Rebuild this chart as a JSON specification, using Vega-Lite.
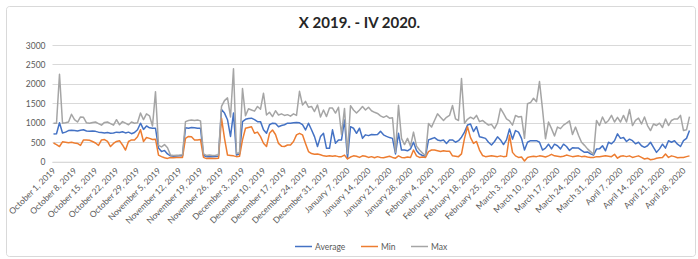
{
  "$schema": "https://vega.github.io/schema/vega-lite/v6.json",
  "autosize": "none",
  "width": 689,
  "height": 250,
  "padding": {"left": 6, "top": 6, "right": 3, "bottom": 3},
  "background": "white",
  "title": {"text": "X 2019. - IV 2020.", "anchor": "middle", "frame": "group", "offset": -25, "dx": 9, "font": "Lato", "fontSize": 15, "fontWeight": "bold", "color": "#262626"},
  "config": {
    "view": {"stroke": "#d9d9d9", "strokeWidth": 1, "cornerRadius": 3},
    "font": "Lato"
  },
  "data": {"values": [
{"date":"2019-10-01","Average":710,"Min":480,"Max":990},
{"date":"2019-10-02","Average":720,"Min":440,"Max":990},
{"date":"2019-10-03","Average":1000,"Min":390,"Max":2250},
{"date":"2019-10-04","Average":740,"Min":510,"Max":990},
{"date":"2019-10-05","Average":760,"Min":500,"Max":1000},
{"date":"2019-10-06","Average":800,"Min":490,"Max":1020},
{"date":"2019-10-07","Average":810,"Min":500,"Max":1220},
{"date":"2019-10-08","Average":800,"Min":480,"Max":1080},
{"date":"2019-10-09","Average":790,"Min":470,"Max":1020},
{"date":"2019-10-10","Average":810,"Min":420,"Max":1150},
{"date":"2019-10-11","Average":820,"Min":560,"Max":1140},
{"date":"2019-10-12","Average":790,"Min":560,"Max":1000},
{"date":"2019-10-13","Average":780,"Min":550,"Max":990},
{"date":"2019-10-14","Average":790,"Min":520,"Max":1010},
{"date":"2019-10-15","Average":780,"Min":480,"Max":1020},
{"date":"2019-10-16","Average":760,"Min":420,"Max":980},
{"date":"2019-10-17","Average":750,"Min":560,"Max":940},
{"date":"2019-10-18","Average":740,"Min":570,"Max":1010},
{"date":"2019-10-19","Average":750,"Min":520,"Max":1020},
{"date":"2019-10-20","Average":730,"Min":390,"Max":980},
{"date":"2019-10-21","Average":740,"Min":470,"Max":940},
{"date":"2019-10-22","Average":760,"Min":520,"Max":1080},
{"date":"2019-10-23","Average":750,"Min":540,"Max":950},
{"date":"2019-10-24","Average":770,"Min":430,"Max":1030},
{"date":"2019-10-25","Average":740,"Min":300,"Max":990},
{"date":"2019-10-26","Average":760,"Min":520,"Max":950},
{"date":"2019-10-27","Average":720,"Min":560,"Max":1020},
{"date":"2019-10-28","Average":750,"Min":560,"Max":990},
{"date":"2019-10-29","Average":820,"Min":640,"Max":1000},
{"date":"2019-10-30","Average":990,"Min":820,"Max":1250},
{"date":"2019-10-31","Average":830,"Min":520,"Max":1080},
{"date":"2019-11-01","Average":920,"Min":620,"Max":1230},
{"date":"2019-11-02","Average":870,"Min":600,"Max":1180},
{"date":"2019-11-03","Average":860,"Min":570,"Max":920},
{"date":"2019-11-04","Average":860,"Min":580,"Max":1800},
{"date":"2019-11-05","Average":350,"Min":170,"Max":420},
{"date":"2019-11-06","Average":260,"Min":130,"Max":380},
{"date":"2019-11-07","Average":290,"Min":100,"Max":440},
{"date":"2019-11-08","Average":200,"Min":85,"Max":360},
{"date":"2019-11-09","Average":150,"Min":110,"Max":170},
{"date":"2019-11-10","Average":140,"Min":100,"Max":160},
{"date":"2019-11-11","Average":145,"Min":110,"Max":165},
{"date":"2019-11-12","Average":150,"Min":105,"Max":170},
{"date":"2019-11-13","Average":155,"Min":110,"Max":180},
{"date":"2019-11-14","Average":870,"Min":600,"Max":1030},
{"date":"2019-11-15","Average":860,"Min":650,"Max":1060},
{"date":"2019-11-16","Average":880,"Min":640,"Max":1070},
{"date":"2019-11-17","Average":870,"Min":560,"Max":1060},
{"date":"2019-11-18","Average":860,"Min":560,"Max":1070},
{"date":"2019-11-19","Average":860,"Min":570,"Max":1050},
{"date":"2019-11-20","Average":160,"Min":110,"Max":200},
{"date":"2019-11-21","Average":130,"Min":80,"Max":160},
{"date":"2019-11-22","Average":135,"Min":90,"Max":170},
{"date":"2019-11-23","Average":130,"Min":80,"Max":160},
{"date":"2019-11-24","Average":135,"Min":85,"Max":165},
{"date":"2019-11-25","Average":140,"Min":90,"Max":180},
{"date":"2019-11-26","Average":1340,"Min":1120,"Max":1420},
{"date":"2019-11-27","Average":1250,"Min":600,"Max":1570},
{"date":"2019-11-28","Average":1080,"Min":170,"Max":1640},
{"date":"2019-11-29","Average":650,"Min":160,"Max":1150},
{"date":"2019-11-30","Average":1250,"Min":150,"Max":2390},
{"date":"2019-12-01","Average":170,"Min":130,"Max":210},
{"date":"2019-12-02","Average":200,"Min":140,"Max":230},
{"date":"2019-12-03","Average":1030,"Min":560,"Max":1880},
{"date":"2019-12-04","Average":1090,"Min":860,"Max":1180},
{"date":"2019-12-05","Average":1110,"Min":880,"Max":1360},
{"date":"2019-12-06","Average":1120,"Min":900,"Max":1330},
{"date":"2019-12-07","Average":1080,"Min":730,"Max":1300},
{"date":"2019-12-08","Average":1030,"Min":760,"Max":1420},
{"date":"2019-12-09","Average":1030,"Min":645,"Max":1350},
{"date":"2019-12-10","Average":820,"Min":475,"Max":1760},
{"date":"2019-12-11","Average":730,"Min":390,"Max":1200},
{"date":"2019-12-12","Average":950,"Min":730,"Max":1270},
{"date":"2019-12-13","Average":990,"Min":815,"Max":1160},
{"date":"2019-12-14","Average":980,"Min":700,"Max":1310},
{"date":"2019-12-15","Average":900,"Min":470,"Max":1200},
{"date":"2019-12-16","Average":930,"Min":400,"Max":1230},
{"date":"2019-12-17","Average":950,"Min":390,"Max":1190},
{"date":"2019-12-18","Average":990,"Min":430,"Max":1210},
{"date":"2019-12-19","Average":990,"Min":430,"Max":1170},
{"date":"2019-12-20","Average":1000,"Min":520,"Max":1230},
{"date":"2019-12-21","Average":1010,"Min":690,"Max":1190},
{"date":"2019-12-22","Average":1000,"Min":730,"Max":1810},
{"date":"2019-12-23","Average":950,"Min":690,"Max":1460},
{"date":"2019-12-24","Average":815,"Min":470,"Max":1550},
{"date":"2019-12-25","Average":990,"Min":260,"Max":1400},
{"date":"2019-12-26","Average":820,"Min":210,"Max":1420},
{"date":"2019-12-27","Average":645,"Min":190,"Max":1290},
{"date":"2019-12-28","Average":390,"Min":200,"Max":1460},
{"date":"2019-12-29","Average":645,"Min":180,"Max":1150},
{"date":"2019-12-30","Average":730,"Min":150,"Max":1330},
{"date":"2019-12-31","Average":345,"Min":140,"Max":1160},
{"date":"2020-01-01","Average":345,"Min":150,"Max":1380},
{"date":"2020-01-02","Average":820,"Min":140,"Max":1380},
{"date":"2020-01-03","Average":475,"Min":150,"Max":1250},
{"date":"2020-01-04","Average":560,"Min":130,"Max":1400},
{"date":"2020-01-05","Average":560,"Min":130,"Max":700},
{"date":"2020-01-06","Average":1075,"Min":170,"Max":1370},
{"date":"2020-01-07","Average":85,"Min":70,"Max":210},
{"date":"2020-01-08","Average":900,"Min":120,"Max":1440},
{"date":"2020-01-09","Average":860,"Min":150,"Max":1330},
{"date":"2020-01-10","Average":730,"Min":140,"Max":1250},
{"date":"2020-01-11","Average":860,"Min":110,"Max":1330},
{"date":"2020-01-12","Average":600,"Min":150,"Max":1420},
{"date":"2020-01-13","Average":690,"Min":140,"Max":1330},
{"date":"2020-01-14","Average":670,"Min":110,"Max":1400},
{"date":"2020-01-15","Average":700,"Min":130,"Max":1310},
{"date":"2020-01-16","Average":690,"Min":100,"Max":1270},
{"date":"2020-01-17","Average":700,"Min":130,"Max":1240},
{"date":"2020-01-18","Average":780,"Min":110,"Max":1180},
{"date":"2020-01-19","Average":690,"Min":100,"Max":1140},
{"date":"2020-01-20","Average":650,"Min":120,"Max":1180},
{"date":"2020-01-21","Average":620,"Min":140,"Max":1120},
{"date":"2020-01-22","Average":600,"Min":110,"Max":1130},
{"date":"2020-01-23","Average":200,"Min":90,"Max":240},
{"date":"2020-01-24","Average":730,"Min":150,"Max":1450},
{"date":"2020-01-25","Average":300,"Min":110,"Max":600},
{"date":"2020-01-26","Average":300,"Min":100,"Max":440},
{"date":"2020-01-27","Average":280,"Min":120,"Max":600},
{"date":"2020-01-28","Average":330,"Min":110,"Max":400},
{"date":"2020-01-29","Average":500,"Min":300,"Max":760},
{"date":"2020-01-30","Average":290,"Min":150,"Max":400},
{"date":"2020-01-31","Average":200,"Min":110,"Max":300},
{"date":"2020-02-01","Average":160,"Min":120,"Max":220},
{"date":"2020-02-02","Average":140,"Min":110,"Max":160},
{"date":"2020-02-03","Average":560,"Min":260,"Max":980},
{"date":"2020-02-04","Average":590,"Min":300,"Max":890},
{"date":"2020-02-05","Average":620,"Min":300,"Max":1060},
{"date":"2020-02-06","Average":560,"Min":280,"Max":1230},
{"date":"2020-02-07","Average":540,"Min":260,"Max":1140},
{"date":"2020-02-08","Average":560,"Min":280,"Max":1060},
{"date":"2020-02-09","Average":470,"Min":270,"Max":1140},
{"date":"2020-02-10","Average":560,"Min":270,"Max":1190},
{"date":"2020-02-11","Average":560,"Min":150,"Max":1445},
{"date":"2020-02-12","Average":500,"Min":140,"Max":1100},
{"date":"2020-02-13","Average":540,"Min":130,"Max":1060},
{"date":"2020-02-14","Average":630,"Min":200,"Max":2140},
{"date":"2020-02-15","Average":760,"Min":600,"Max":990},
{"date":"2020-02-16","Average":945,"Min":900,"Max":1090},
{"date":"2020-02-17","Average":970,"Min":620,"Max":1145},
{"date":"2020-02-18","Average":775,"Min":470,"Max":1100},
{"date":"2020-02-19","Average":900,"Min":520,"Max":1190},
{"date":"2020-02-20","Average":640,"Min":300,"Max":1030},
{"date":"2020-02-21","Average":620,"Min":160,"Max":1060},
{"date":"2020-02-22","Average":600,"Min":130,"Max":1000},
{"date":"2020-02-23","Average":500,"Min":140,"Max":940},
{"date":"2020-02-24","Average":430,"Min":150,"Max":960},
{"date":"2020-02-25","Average":520,"Min":140,"Max":850},
{"date":"2020-02-26","Average":640,"Min":130,"Max":1000},
{"date":"2020-02-27","Average":560,"Min":150,"Max":1370},
{"date":"2020-02-28","Average":440,"Min":130,"Max":1240},
{"date":"2020-02-29","Average":560,"Min":140,"Max":1100},
{"date":"2020-03-01","Average":840,"Min":680,"Max":1050},
{"date":"2020-03-02","Average":580,"Min":240,"Max":940},
{"date":"2020-03-03","Average":800,"Min":150,"Max":1190},
{"date":"2020-03-04","Average":760,"Min":110,"Max":1150},
{"date":"2020-03-05","Average":600,"Min":120,"Max":1160},
{"date":"2020-03-06","Average":300,"Min":20,"Max":600},
{"date":"2020-03-07","Average":500,"Min":110,"Max":1490},
{"date":"2020-03-08","Average":540,"Min":130,"Max":1520},
{"date":"2020-03-09","Average":540,"Min":140,"Max":1630},
{"date":"2020-03-10","Average":540,"Min":130,"Max":1540},
{"date":"2020-03-11","Average":500,"Min":150,"Max":2060},
{"date":"2020-03-12","Average":300,"Min":140,"Max":1350},
{"date":"2020-03-13","Average":350,"Min":120,"Max":590},
{"date":"2020-03-14","Average":450,"Min":150,"Max":1020},
{"date":"2020-03-15","Average":330,"Min":190,"Max":850},
{"date":"2020-03-16","Average":450,"Min":150,"Max":660},
{"date":"2020-03-17","Average":410,"Min":140,"Max":890},
{"date":"2020-03-18","Average":330,"Min":130,"Max":850},
{"date":"2020-03-19","Average":450,"Min":140,"Max":940},
{"date":"2020-03-20","Average":390,"Min":170,"Max":990},
{"date":"2020-03-21","Average":290,"Min":150,"Max":1050},
{"date":"2020-03-22","Average":360,"Min":130,"Max":700},
{"date":"2020-03-23","Average":350,"Min":140,"Max":890},
{"date":"2020-03-24","Average":350,"Min":150,"Max":680},
{"date":"2020-03-25","Average":290,"Min":130,"Max":500},
{"date":"2020-03-26","Average":240,"Min":140,"Max":420},
{"date":"2020-03-27","Average":250,"Min":120,"Max":330},
{"date":"2020-03-28","Average":200,"Min":110,"Max":260},
{"date":"2020-03-29","Average":170,"Min":110,"Max":190},
{"date":"2020-03-30","Average":325,"Min":130,"Max":1060},
{"date":"2020-03-31","Average":330,"Min":130,"Max":930},
{"date":"2020-04-01","Average":410,"Min":140,"Max":1150},
{"date":"2020-04-02","Average":280,"Min":150,"Max":990},
{"date":"2020-04-03","Average":500,"Min":140,"Max":1060},
{"date":"2020-04-04","Average":460,"Min":130,"Max":1190},
{"date":"2020-04-05","Average":540,"Min":190,"Max":1020},
{"date":"2020-04-06","Average":715,"Min":90,"Max":1140},
{"date":"2020-04-07","Average":600,"Min":140,"Max":1020},
{"date":"2020-04-08","Average":620,"Min":150,"Max":1190},
{"date":"2020-04-09","Average":520,"Min":130,"Max":1020},
{"date":"2020-04-10","Average":580,"Min":150,"Max":1340},
{"date":"2020-04-11","Average":540,"Min":110,"Max":930},
{"date":"2020-04-12","Average":460,"Min":130,"Max":1060},
{"date":"2020-04-13","Average":500,"Min":150,"Max":1120},
{"date":"2020-04-14","Average":410,"Min":110,"Max":970},
{"date":"2020-04-15","Average":370,"Min":70,"Max":1150},
{"date":"2020-04-16","Average":410,"Min":90,"Max":930},
{"date":"2020-04-17","Average":500,"Min":50,"Max":800},
{"date":"2020-04-18","Average":370,"Min":60,"Max":970},
{"date":"2020-04-19","Average":240,"Min":90,"Max":930},
{"date":"2020-04-20","Average":330,"Min":100,"Max":990},
{"date":"2020-04-21","Average":450,"Min":110,"Max":880},
{"date":"2020-04-22","Average":350,"Min":200,"Max":1100},
{"date":"2020-04-23","Average":540,"Min":110,"Max":930},
{"date":"2020-04-24","Average":500,"Min":150,"Max":1060},
{"date":"2020-04-25","Average":540,"Min":130,"Max":1100},
{"date":"2020-04-26","Average":450,"Min":100,"Max":1100},
{"date":"2020-04-27","Average":390,"Min":110,"Max":1190},
{"date":"2020-04-28","Average":540,"Min":110,"Max":800},
{"date":"2020-04-29","Average":600,"Min":130,"Max":820},
{"date":"2020-04-30","Average":800,"Min":150,"Max":1160}
  ]},
  "transform": [{"fold": ["Average", "Min", "Max"], "as": ["series", "value"]}],
  "mark": {"type": "line", "strokeWidth": 1.5, "strokeJoin": "round"},
  "encoding": {
    "x": {
      "field": "date", "type": "ordinal",
      "scale": {"range": [46, 685]},
      "axis": {
        "title": null,
        "offset": -94.3,
        "values": ["2019-10-01","2019-10-08","2019-10-15","2019-10-22","2019-10-29","2019-11-05","2019-11-12","2019-11-19","2019-11-26","2019-12-03","2019-12-10","2019-12-17","2019-12-24","2019-12-31","2020-01-07","2020-01-14","2020-01-21","2020-01-28","2020-02-04","2020-02-11","2020-02-18","2020-02-25","2020-03-03","2020-03-10","2020-03-17","2020-03-24","2020-03-31","2020-04-07","2020-04-14","2020-04-21","2020-04-28"],
        "labelExpr": "utcFormat(toDate(datum.value), '%B %-d, %Y')",
        "labelAngle": -45,
        "labelAlign": "right",
        "labelBaseline": "middle",
        "labelPadding": 7,
        "labelFont": "Lato",
        "labelFontSize": 8.5,
        "labelColor": "#595959",
        "labelOverlap": false,
        "ticks": false,
        "grid": false,
        "domainColor": "#d9d9d9",
        "domainWidth": 1
      }
    },
    "y": {
      "field": "value", "type": "quantitative",
      "scale": {"domain": [0, 3000], "range": [155.7, 39], "nice": false},
      "axis": {
        "title": null,
        "offset": -46,
        "format": "d",
        "values": [0, 500, 1000, 1500, 2000, 2500, 3000],
        "labelPadding": 7,
        "labelFont": "Lato",
        "labelFontSize": 8.5,
        "labelColor": "#595959",
        "ticks": false,
        "domain": false,
        "grid": true,
        "gridColor": "#d9d9d9",
        "gridWidth": 1
      }
    },
    "color": {
      "field": "series", "type": "nominal",
      "scale": {"domain": ["Average", "Min", "Max"], "range": ["#4472C4", "#ED7D31", "#A5A5A5"]},
      "legend": {
        "title": null,
        "orient": "none",
        "legendX": 288,
        "legendY": 231,
        "direction": "horizontal",
        "symbolType": "stroke",
        "symbolSize": 289,
        "symbolStrokeWidth": 1.5,
        "labelFont": "Lato",
        "labelFontSize": 8.5,
        "labelColor": "#595959",
        "labelOffset": 2,
        "columnPadding": 12
      }
    }
  }
}
